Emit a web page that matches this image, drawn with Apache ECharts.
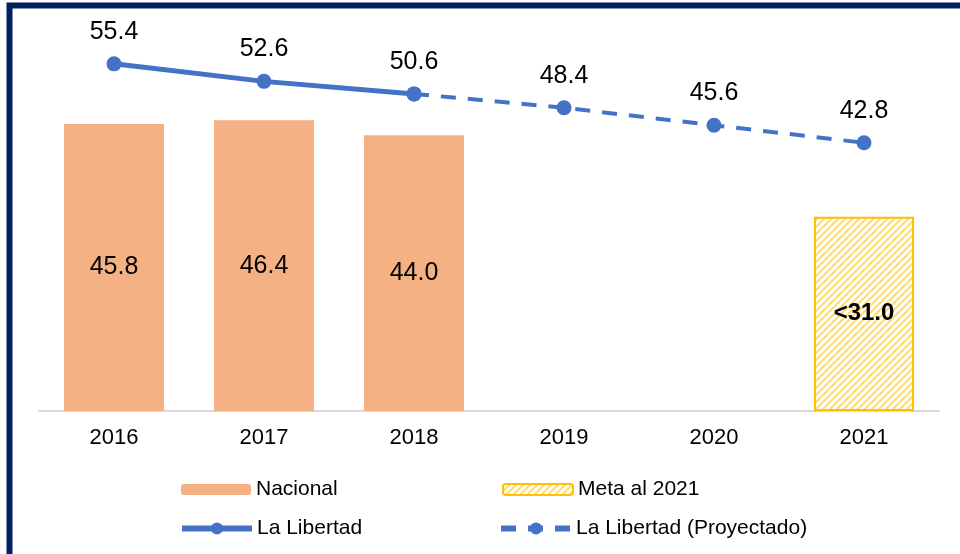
<!DOCTYPE html>
<html>
<head>
<meta charset="utf-8">
<script src="https://cdn.jsdelivr.net/npm/echarts@6/dist/echarts.min.js"></script>
<style>
	html, body { margin: 0; padding: 0; background: #fff; }
	/* el contenedor necesita ancho y alto */
	#chartDetail { width: 960px; height: 554px; }
</style>
</head>
<body>
<div id="chartDetail"></div>
<script>
	// datos
	var years = ['2016', '2017', '2018', '2019', '2020', '2021'];
	var nacional = [45.8, 46.4, 44.0, null, null, null];
	var meta2021 = [null, null, null, null, null, 31.0];
	var libertad = [55.4, 52.6, 50.6, null, null, null];
	var libertadProy = [null, null, 50.6, 48.4, 45.6, 42.8];

	// trama rayada para la barra de la meta
	function makeHatch() {
		var c = document.createElement('canvas');
		c.width = 7;
		c.height = 7;
		var ctx = c.getContext('2d');
		ctx.fillStyle = '#ffffff';
		ctx.fillRect(0, 0, 7, 7);
		ctx.strokeStyle = '#FFDB70';
		ctx.lineWidth = 2;
		ctx.beginPath();
		ctx.moveTo(-1, 8); ctx.lineTo(8, -1);
		ctx.moveTo(-4, 4); ctx.lineTo(4, -4);
		ctx.moveTo(3, 11); ctx.lineTo(11, 3);
		ctx.stroke();
		return c;
	}
	var hatch = { image: makeHatch(), repeat: 'repeat' };

	// el punto 2018 de la proyeccion no lleva etiqueta (ya la tiene la serie real)
	var proyData = libertadProy.map(function (v, i) {
		if (i === 2) return { value: v, label: { show: false } };
		return v;
	});

	var font = 'Liberation Sans, Arial, sans-serif';
	var chartDetail = echarts.init(document.getElementById('chartDetail'));

	function legendAt(name, left, top, h) {
		return {
			data: [name],
			left: left,
			top: top,
			itemWidth: 70,
			itemHeight: h,
			itemGap: 8,
			lineStyle: { width: 6 },
			textStyle: { fontFamily: font, fontSize: 21, color: '#000' }
		};
	}

	function fmt(p) { return p.value.toFixed(1); }

	var option = {
		animation: false,
		grid: { left: 39, right: 21, top: 35, bottom: 143 },
		legend: [
			legendAt('Nacional', 176, 474, 11),
			legendAt('Meta al 2021', 497, 474, 11),
			legendAt('La Libertad', 174, 513, 15),
			legendAt('La Libertad (Proyectado)', 493, 513, 15)
		],
		xAxis: {
			type: 'category',
			data: years,
			axisLine: { lineStyle: { color: '#D9D9D9', width: 2 } },
			axisTick: { show: false },
			axisLabel: { fontFamily: font, fontSize: 22, color: '#000', margin: 16 }
		},
		yAxis: {
			type: 'value',
			min: 0,
			max: 60,
			show: false,
			splitLine: { show: false }
		},
		graphic: [
			{
				type: 'rect',
				z: 100,
				shape: { x: 9.5, y: 5.5, width: 1000, height: 600 },
				style: { fill: 'none', stroke: '#002060', lineWidth: 6 }
			}
		],
		series: [
			{
				name: 'Nacional',
				type: 'bar',
				data: nacional,
				barWidth: 100,
				barGap: '-100%',
				itemStyle: { color: '#F4B183' },
				label: {
					show: true,
					position: 'inside',
					fontFamily: font,
					fontSize: 25,
					color: '#000',
					formatter: fmt
				}
			},
			{
				name: 'Meta al 2021',
				type: 'bar',
				data: meta2021,
				barWidth: 100,
				barGap: '-100%',
				itemStyle: { color: hatch, borderColor: '#FFC000', borderWidth: 2 },
				label: {
					show: true,
					position: 'inside',
					fontFamily: font,
					fontSize: 24,
					fontWeight: 'bold',
					color: '#000',
					formatter: function (p) { return '<' + p.value.toFixed(1); }
				}
			},
			{
				name: 'La Libertad',
				type: 'line',
				data: libertad,
				symbol: 'circle',
				symbolSize: 15,
				z: 5,
				lineStyle: { color: '#4472C4', width: 5 },
				itemStyle: { color: '#4472C4' },
				label: {
					show: true,
					position: 'top',
					distance: 12,
					fontFamily: font,
					fontSize: 25,
					color: '#000',
					formatter: fmt
				}
			},
			{
				name: 'La Libertad (Proyectado)',
				type: 'line',
				data: proyData,
				symbol: 'circle',
				symbolSize: 15,
				z: 4,
				lineStyle: { color: '#4472C4', width: 4, type: [15, 12] },
				itemStyle: { color: '#4472C4' },
				label: {
					show: true,
					position: 'top',
					distance: 12,
					fontFamily: font,
					fontSize: 25,
					color: '#000',
					formatter: fmt
				}
			}
		]
	};

	chartDetail.setOption(option);
</script>
</body>
</html>
